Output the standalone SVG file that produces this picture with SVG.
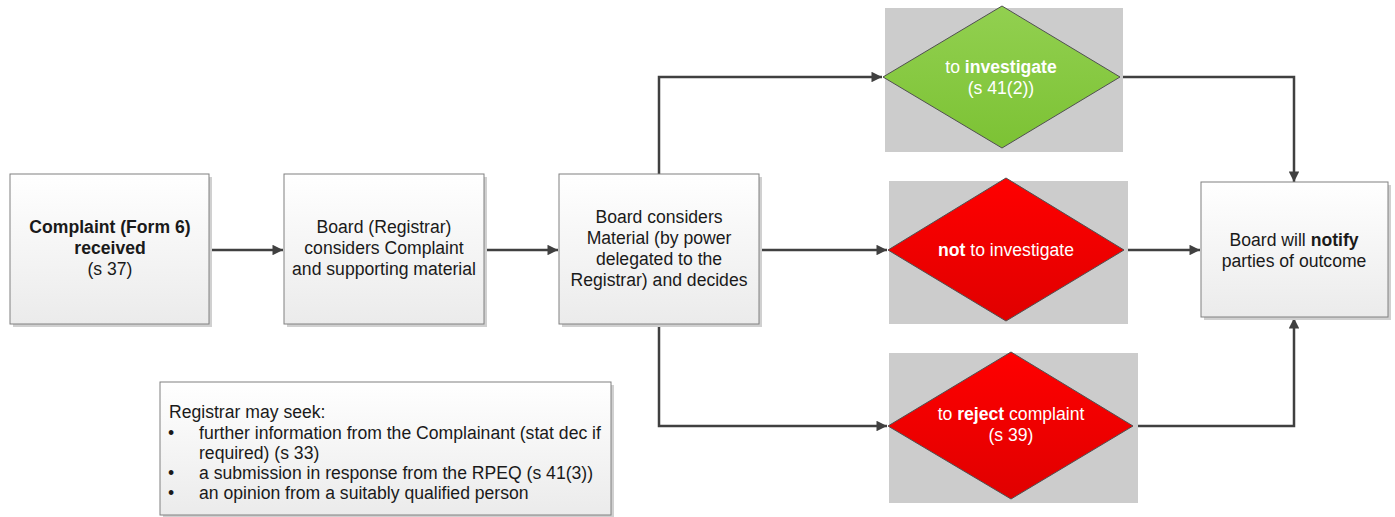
<svg xmlns="http://www.w3.org/2000/svg" width="1395" height="517" viewBox="0 0 1395 517">
<style>
text{font-family:"Liberation Sans",Arial,sans-serif;font-size:17.6px;fill:#1a1a1a}
.c{text-anchor:middle}
.w{fill:#ffffff}
.b{font-weight:bold}
.box{fill:url(#g);stroke:#808080;stroke-width:1}
.sh{fill:#d0d0d0}
.bg{fill:#cccccc}
.dm{stroke:#505050;stroke-width:1}
.ln{fill:none;stroke:#404040;stroke-width:2.5}
</style>
<defs>
<linearGradient id="g" x1="0" y1="0" x2="0" y2="1"><stop offset="0" stop-color="#ffffff"/><stop offset="1" stop-color="#ebebeb"/></linearGradient>
<linearGradient id="gr" x1="0" y1="0" x2="0" y2="1"><stop offset="0" stop-color="#92d050"/><stop offset="1" stop-color="#7cc234"/></linearGradient>
<linearGradient id="rd" x1="0" y1="0" x2="0" y2="1"><stop offset="0" stop-color="#ff0000"/><stop offset="1" stop-color="#e00000"/></linearGradient>
<marker id="a" viewBox="0 0 10 10" refX="10" refY="5" markerWidth="4.6" markerHeight="4.2" orient="auto" markerUnits="strokeWidth"><path d="M0,0 L10,5 L0,10 z" fill="#404040"/></marker>
</defs>
<g id="connectors">
<path class="ln" d="M209,250 H283" marker-end="url(#a)"/>
<path class="ln" d="M484,250 H558" marker-end="url(#a)"/>
<path class="ln" d="M759,250 H887" marker-end="url(#a)"/>
<path class="ln" d="M659,174 V77 H882" marker-end="url(#a)"/>
<path class="ln" d="M659,324 V426 H887" marker-end="url(#a)"/>
<path class="ln" d="M1120,77 H1294 V182" marker-end="url(#a)"/>
<path class="ln" d="M1124,250 H1200" marker-end="url(#a)"/>
<path class="ln" d="M1133,426 H1294 V318" marker-end="url(#a)"/>
</g>
<g id="complaint">
<rect class="sh" x="13" y="177" width="199" height="150"/>
<rect class="box" x="10" y="174" width="199" height="150"/>
<text class="c b" x="110" y="233">Complaint (Form 6)</text>
<text class="c b" x="110" y="254">received</text>
<text class="c" x="110" y="275">(s 37)</text>
</g>
<g id="board-registrar">
<rect class="sh" x="287" y="177" width="200" height="150"/>
<rect class="box" x="284" y="174" width="200" height="150"/>
<text class="c" x="384" y="233">Board (Registrar)</text>
<text class="c" x="384" y="254">considers Complaint</text>
<text class="c" x="384" y="275">and supporting material</text>
</g>
<g id="board-considers">
<rect class="sh" x="562" y="177" width="200" height="150"/>
<rect class="box" x="559" y="174" width="200" height="150"/>
<text class="c" x="659" y="223">Board considers</text>
<text class="c" x="659" y="244">Material (by power</text>
<text class="c" x="659" y="265">delegated to the</text>
<text class="c" x="659" y="286">Registrar) and decides</text>
</g>
<g id="investigate">
<rect class="bg" x="885" y="8" width="238" height="144"/>
<polygon class="dm" points="1002,6 1120,77 1002,148 883,77" fill="url(#gr)"/>
<text class="c w" x="1001" y="73">to <tspan class="b">investigate</tspan></text>
<text class="c w" x="1001" y="94">(s 41(2))</text>
</g>
<g id="not-investigate">
<rect class="bg" x="889" y="181" width="239" height="143"/>
<polygon class="dm" points="1006,178 1124,250 1006,321 888,250" fill="url(#rd)"/>
<text class="c w" x="1006" y="256"><tspan class="b">not</tspan> to investigate</text>
</g>
<g id="reject">
<rect class="bg" x="889" y="353" width="249" height="150"/>
<polygon class="dm" points="1011,352 1133,426 1011,499 888,426" fill="url(#rd)"/>
<text class="c w" x="1011" y="420">to <tspan class="b">reject</tspan> complaint</text>
<text class="c w" x="1011" y="441">(s 39)</text>
</g>
<g id="notify">
<rect class="sh" x="1204" y="185" width="187" height="135"/>
<rect class="box" x="1201" y="182" width="187" height="135"/>
<text class="c" x="1294" y="246">Board will <tspan class="b">notify</tspan></text>
<text class="c" x="1294" y="267">parties of outcome</text>
</g>
<g id="registrar-note">
<rect class="sh" x="163" y="385" width="451" height="133"/>
<rect class="box" x="160" y="382" width="451" height="133"/>
<text x="169" y="418">Registrar may seek:</text>
<text x="168" y="439">•</text>
<text x="199" y="439">further information from the Complainant (stat dec if</text>
<text x="199" y="459">required) (s 33)</text>
<text x="168" y="479">•</text>
<text x="199" y="479">a submission in response from the RPEQ (s 41(3))</text>
<text x="168" y="499">•</text>
<text x="199" y="499">an opinion from a suitably qualified person</text>
</g>
</svg>
